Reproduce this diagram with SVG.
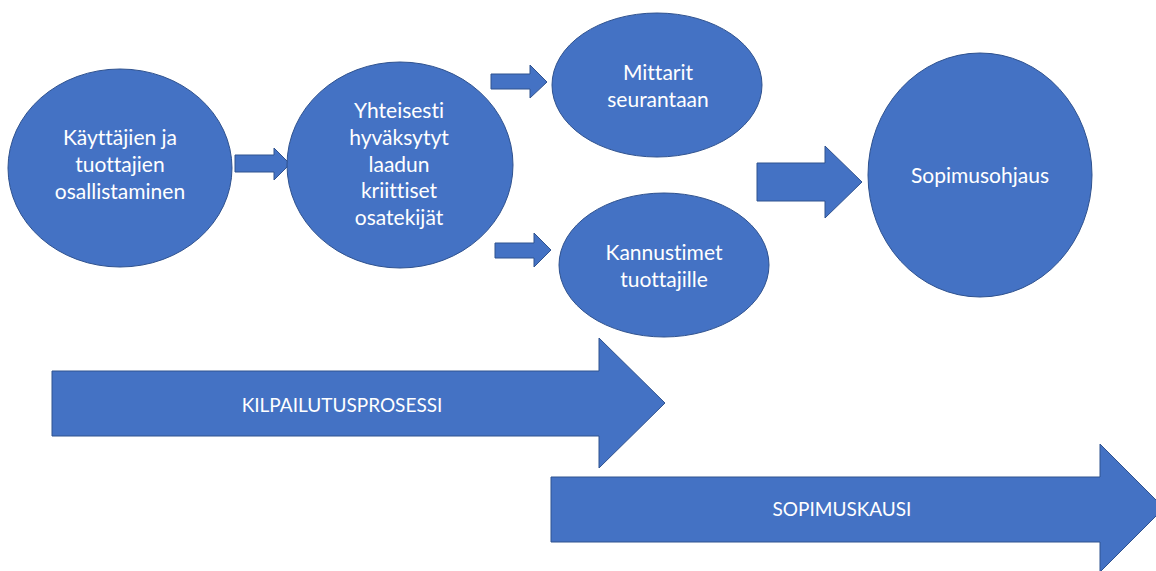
<svg xmlns="http://www.w3.org/2000/svg" width="1156" height="571" viewBox="0 0 1156 571">
<style>
.shape{fill:#4472C4;stroke:#2F528F;stroke-width:1}
.t{fill:#ffffff;font-family:Lato,"Liberation Sans",sans-serif;font-size:21px;text-anchor:middle;font-variant-ligatures:none;font-feature-settings:"liga" 0}
.tb{fill:#ffffff;font-family:Lato,"Liberation Sans",sans-serif;font-size:19px;text-anchor:middle;font-variant-ligatures:none;font-feature-settings:"liga" 0}
</style>
<rect width="1156" height="571" fill="#ffffff"/>
<g id="connectors">
<polygon class="shape" points="235,155 274,155 274,148 290,164 274,180 274,172 235,172"/>
<polygon class="shape" points="491,74 530,74 530,65 547,82 530,98 530,89 491,89"/>
<polygon class="shape" points="495,243 534,243 534,233 551,250 534,267 534,258 495,258"/>
<polygon class="shape" points="757,163 825,163 825,146 862,182 825,218 825,201 757,201"/>
</g>
<g id="node-osallistaminen">
<ellipse class="shape" cx="120" cy="168" rx="112" ry="99"/>
<text class="t" x="120" y="145">Käyttäjien ja</text>
<text class="t" x="120" y="172">tuottajien</text>
<text class="t" x="120" y="199">osallistaminen</text>
</g>
<g id="node-osatekijat">
<ellipse class="shape" cx="400" cy="165" rx="113" ry="103"/>
<text class="t" x="399" y="118">Yhteisesti</text>
<text class="t" x="399" y="145">hyväksytyt</text>
<text class="t" x="399" y="172">laadun</text>
<text class="t" x="399" y="198">kriittiset</text>
<text class="t" x="399" y="225">osatekijät</text>
</g>
<g id="node-mittarit">
<ellipse class="shape" cx="657" cy="85" rx="105" ry="72"/>
<text class="t" x="658" y="80">Mittarit</text>
<text class="t" x="658" y="107">seurantaan</text>
</g>
<g id="node-kannustimet">
<ellipse class="shape" cx="664" cy="265" rx="105" ry="72"/>
<text class="t" x="664" y="260">Kannustimet</text>
<text class="t" x="664" y="287">tuottajille</text>
</g>
<g id="node-sopimusohjaus">
<ellipse class="shape" cx="980" cy="175" rx="112" ry="122"/>
<text class="t" x="980" y="183">Sopimusohjaus</text>
</g>
<g id="node-kilpailutusprosessi">
<polygon class="shape" points="52,371 599,371 599,338 665,403 599,468 599,436 52,436"/>
<text class="tb" x="342" y="412">KILPAILUTUSPROSESSI</text>
</g>
<g id="node-sopimuskausi">
<polygon class="shape" points="551,477 1100,477 1100,444 1164,508 1100,572 1100,542 551,542"/>
<text class="tb" x="842" y="516">SOPIMUSKAUSI</text>
</g>
</svg>
